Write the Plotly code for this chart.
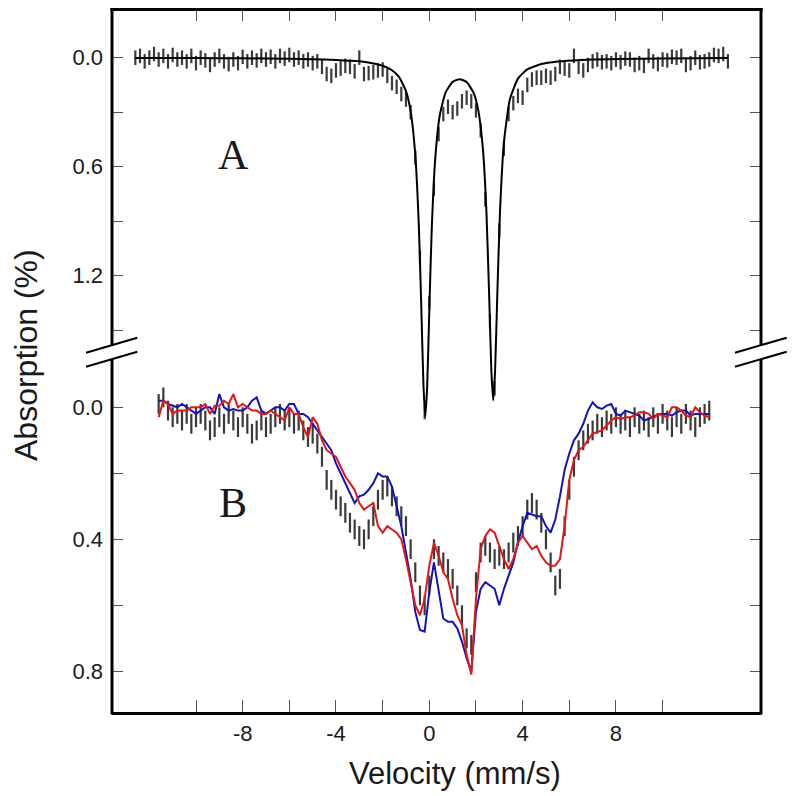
import plotly.graph_objects as go

# ---------------- data ----------------
VEL_A = [-12.6, -12.4, -12.2, -12.0, -11.8, -11.6, -11.4, -11.2, -11.0, -10.8,
         -10.6, -10.4, -10.2, -10.0, -9.8, -9.6, -9.4, -9.2, -9.0, -8.8,
         -8.6, -8.4, -8.2, -8.0, -7.8, -7.6, -7.4, -7.2, -7.0, -6.8,
         -6.6, -6.4, -6.2, -6.0, -5.8, -5.6, -5.4, -5.2, -5.0, -4.8,
         -4.6, -4.4, -4.2, -4.0, -3.8, -3.6, -3.4, -3.2, -3.0, -2.8,
         -2.6, -2.4, -2.2, -2.0, -1.8, -1.6, -1.4, -1.2, -1.0, -0.8,
         -0.6, -0.4, -0.2, 0.0, 0.2, 0.4, 0.6, 0.8, 1.0, 1.2,
         1.4, 1.6, 1.8, 2.0, 2.2, 2.4, 2.6, 2.8, 3.0, 3.2,
         3.4, 3.6, 3.8, 4.0, 4.2, 4.4, 4.6, 4.8, 5.0, 5.2,
         5.4, 5.6, 5.8, 6.0, 6.2, 6.4, 6.6, 6.8, 7.0, 7.2,
         7.4, 7.6, 7.8, 8.0, 8.2, 8.4, 8.6, 8.8, 9.0, 9.2,
         9.4, 9.6, 9.8, 10.0, 10.2, 10.4, 10.6, 10.8, 11.0, 11.2,
         11.4, 11.6, 11.8, 12.0, 12.2, 12.4, 12.6, 12.8]
ABS_A = [0.00, -0.01, 0.02, 0.00, -0.02, 0.01, -0.01, 0.02, -0.015, 0.01,
         0.00, 0.02, -0.01, 0.03, 0.00, 0.015, 0.04, 0.01, -0.01, 0.02,
         0.035, 0.01, 0.03, -0.005, 0.02, 0.00, 0.015, -0.01, 0.01, -0.005,
         0.02, -0.01, 0.005, -0.015, 0.01, 0.00, 0.02, 0.01, 0.03, 0.02,
         0.05, 0.09, 0.10, 0.07, 0.06, 0.045, 0.05, 0.075, 0.00, 0.09,
         0.085, 0.08, 0.07, 0.065, 0.10, 0.14, 0.16, 0.20, 0.23, 0.30,
         0.55, 1.10, 1.95, 1.35, 0.72, 0.42, 0.31, 0.27, 0.30, 0.28,
         0.24, 0.22, 0.24, 0.29, 0.40, 0.78, 1.45, 1.82, 0.95, 0.50,
         0.31, 0.25, 0.21, 0.22, 0.15, 0.12, 0.11, 0.11, 0.10, 0.11,
         0.09, 0.05, 0.06, 0.07, -0.01, 0.05, 0.07, 0.04, 0.02, 0.01,
         0.025, 0.02, 0.03, 0.01, 0.025, 0.005, 0.01, 0.04, 0.03, 0.045,
         -0.01, 0.02, 0.035, 0.01, 0.015, -0.005, 0.00, -0.01, 0.04, 0.03,
         0.00, 0.025, 0.02, 0.01, -0.015, -0.01, -0.02, 0.02]

FIT_V = [-12.6, -10, -8, -6, -5, -4, -3, -2.5, -2, -1.6,
         -1.3, -1.0, -0.8, -0.6, -0.45, -0.35, -0.25, -0.17, -0.09, 0.0,
         0.1, 0.25, 0.45, 0.7, 1.0, 1.3, 1.6, 1.9, 2.1, 2.3,
         2.45, 2.57, 2.66, 2.74, 2.82, 2.91, 3.03, 3.2, 3.45, 3.8,
         4.2, 4.8, 5.5, 6.5, 8, 10, 12.8]
FIT_A = [0.001, 0.002, 0.003, 0.006, 0.008, 0.012, 0.020, 0.029, 0.044, 0.069,
         0.106, 0.184, 0.295, 0.536, 0.920, 1.338, 1.804, 1.975, 1.806, 1.390,
         0.961, 0.563, 0.317, 0.191, 0.133, 0.118, 0.134, 0.194, 0.290, 0.505,
         0.853, 1.327, 1.724, 1.886, 1.723, 1.324, 0.847, 0.464, 0.231, 0.115,
         0.064, 0.035, 0.021, 0.012, 0.007, 0.004, 0.002]

VEL_B = [-11.6, -11.4, -11.2, -11.0, -10.8, -10.6, -10.4, -10.2, -10.0, -9.8,
         -9.6, -9.4, -9.2, -9.0, -8.8, -8.6, -8.4, -8.2, -8.0, -7.8,
         -7.6, -7.4, -7.2, -7.0, -6.8, -6.6, -6.4, -6.2, -6.0, -5.8,
         -5.6, -5.4, -5.2, -5.0, -4.8, -4.6, -4.4, -4.2, -4.0, -3.8,
         -3.6, -3.4, -3.2, -3.0, -2.8, -2.6, -2.4, -2.2, -2.0, -1.8,
         -1.6, -1.4, -1.2, -1.0, -0.8, -0.6, -0.4, -0.2, 0.0, 0.2,
         0.4, 0.6, 0.8, 1.0, 1.2, 1.4, 1.6, 1.8, 2.0, 2.2,
         2.4, 2.6, 2.8, 3.0, 3.2, 3.4, 3.6, 3.8, 4.0, 4.2,
         4.4, 4.6, 4.8, 5.0, 5.2, 5.4, 5.6, 5.8, 6.0, 6.2,
         6.4, 6.6, 6.8, 7.0, 7.2, 7.4, 7.6, 7.8, 8.0, 8.2,
         8.4, 8.6, 8.8, 9.0, 9.2, 9.4, 9.6, 9.8, 10.0, 10.2,
         10.4, 10.6, 10.8, 11.0, 11.2, 11.4, 11.6, 11.8, 12.0]
ABS_B = [-0.01, -0.03, 0.01, 0.03, 0.02, 0.04, 0.02, 0.05, 0.03, 0.02,
         0.04, 0.07, 0.06, 0.03, 0.05, 0.02, 0.04, 0.06, 0.03, 0.05,
         0.08, 0.07, 0.04, 0.06, 0.05, 0.03, 0.02, 0.04, 0.03, 0.05,
         0.04, 0.07, 0.09, 0.08, 0.11, 0.15, 0.22, 0.25, 0.28, 0.30,
         0.32, 0.35, 0.37, 0.39, 0.40, 0.37, 0.33, 0.28, 0.25, 0.24,
         0.27, 0.30, 0.33, 0.36, 0.43, 0.50, 0.57, 0.60, 0.54, 0.43,
         0.45, 0.47, 0.49, 0.52, 0.57, 0.63, 0.70, 0.72, 0.53, 0.44,
         0.42, 0.44, 0.46, 0.45, 0.46, 0.44, 0.41, 0.39, 0.36, 0.31,
         0.29, 0.31, 0.35, 0.40, 0.47, 0.54, 0.52, 0.36, 0.25, 0.18,
         0.13, 0.10, 0.08, 0.07, 0.05, 0.06, 0.04, 0.05, 0.03, 0.05,
         0.04, 0.06, 0.03, 0.05, 0.04, 0.06, 0.03, 0.05, 0.02, 0.04,
         0.06, 0.03, 0.05, 0.02, 0.04, 0.06, 0.03, 0.02, 0.01]
BLUE_B = [-0.02, -0.02, -0.01, -0.005, 0.00, -0.01, 0.00, 0.01, 0.02, 0.01,
          0.00, 0.00, 0.02, -0.04, 0.00, 0.01, 0.005, 0.01, 0.01, 0.00,
          -0.02, -0.03, 0.01, 0.02, 0.01, 0.00, 0.00, 0.01, -0.01, -0.01,
          0.02, 0.02, 0.03, 0.05, 0.07, 0.09, 0.11, 0.13, 0.17, 0.20,
          0.23, 0.26, 0.29, 0.27, 0.265, 0.25, 0.23, 0.20, 0.21, 0.21,
          0.24, 0.30, 0.36, 0.44, 0.52, 0.62, 0.675, 0.68, 0.56, 0.47,
          0.56, 0.64, 0.65, 0.65, 0.67, 0.71, 0.76, 0.80, 0.62, 0.55,
          0.53, 0.54, 0.55, 0.60, 0.55, 0.51, 0.47, 0.41, 0.36, 0.32,
          0.325, 0.33, 0.33, 0.36, 0.38, 0.34, 0.27, 0.19, 0.14, 0.10,
          0.08, 0.05, 0.01, -0.015, 0.00, 0.005, -0.005, -0.01, 0.02, 0.025,
          0.01, 0.015, 0.02, 0.025, 0.04, 0.035, 0.03, 0.02, 0.02, 0.02,
          0.025, 0.015, 0.01, 0.01, 0.025, 0.02, 0.02, 0.02, 0.02]
RED_B = [0.03, -0.02, -0.01, 0.02, 0.01, 0.01, 0.01, 0.00, 0.00, 0.00,
         -0.01, 0.02, -0.005, -0.005, -0.02, -0.01, -0.04, 0.00, -0.01, 0.00,
         0.01, 0.01, 0.02, 0.02, 0.01, 0.02, 0.03, 0.04, 0.00, 0.02,
         0.02, 0.06, 0.09, 0.03, 0.05, 0.10, 0.13, 0.14, 0.15, 0.18,
         0.21, 0.23, 0.25, 0.29, 0.31, 0.30, 0.29, 0.36, 0.38, 0.36,
         0.37, 0.38, 0.40, 0.46, 0.53, 0.60, 0.63, 0.58, 0.48, 0.41,
         0.45, 0.50, 0.52, 0.58, 0.63, 0.66, 0.75, 0.81, 0.58, 0.43,
         0.39, 0.37, 0.38, 0.42, 0.46, 0.49, 0.46, 0.41, 0.39, 0.41,
         0.43, 0.42, 0.45, 0.47, 0.48, 0.48, 0.46, 0.36, 0.22, 0.16,
         0.13, 0.12, 0.10, 0.08, 0.075, 0.07, 0.055, 0.04, 0.03, 0.035,
         0.03, 0.03, 0.025, 0.015, 0.015, 0.02, 0.035, 0.02, 0.025, 0.03,
         0.00, 0.00, 0.01, 0.025, 0.03, 0.00, 0.015, 0.025, 0.03]

X_TICKS = [-10, -8, -6, -4, -2, 0, 2, 4, 6, 8, 10]
X_TICKTEXT = ["", "-8", "", "-4", "", "0", "", "4", "", "8", ""]
YA_TICKS = [0.0, 0.3, 0.6, 0.9, 1.2, 1.5]
YA_TICKTEXT = ["0.0", "", "0.6", "", "1.2", ""]
YB_TICKS = [0.0, 0.2, 0.4, 0.6, 0.8]
YB_TICKTEXT = ["0.0", "", "0.4", "", "0.8"]

# ---------------- layout geometry ----------------
# The page body has an 8px margin, so the figure starts at page (8, 8).
W, H = 787, 788
L, R, T, B = 104, 34, 1, 84
PW, PH = W - L - R, H - T - B            # 649 x 703
PAGE_LEFT = 8 + L                         # 112
PAGE_TOP = 8 + T                          # 9
PAGE_BOTTOM = PAGE_TOP + PH               # 712


def px(x):
    """page x pixel -> paper coordinate"""
    return (x - PAGE_LEFT) / PW


def py(y):
    """page y pixel -> paper coordinate"""
    return (PAGE_BOTTOM - y) / PH


TICKFONT = dict(family="Liberation Sans, Arial, sans-serif", size=22, color="#1a1a1a")
DATA_COL = "#3a3a3a"
CLEAR = "rgba(0,0,0,0)"

fig = go.Figure()

fig.add_trace(go.Scatter(
    x=VEL_A, y=ABS_A, mode="markers", marker=dict(size=2, color=CLEAR),
    error_y=dict(type="constant", value=0.04, color=DATA_COL, thickness=2.2, width=0),
    yaxis="y", showlegend=False, hoverinfo="skip"))
fig.add_trace(go.Scatter(
    x=FIT_V, y=FIT_A, mode="lines",
    line=dict(color="black", width=2, shape="spline", smoothing=0.5),
    yaxis="y", showlegend=False))

fig.add_trace(go.Scatter(
    x=VEL_B, y=ABS_B, mode="markers", marker=dict(size=2, color=CLEAR),
    error_y=dict(type="constant", value=0.03, color=DATA_COL, thickness=2.2, width=0),
    yaxis="y2", showlegend=False, hoverinfo="skip"))
fig.add_trace(go.Scatter(
    x=VEL_B, y=BLUE_B, mode="lines", line=dict(color="#1414b4", width=2),
    yaxis="y2", showlegend=False))
fig.add_trace(go.Scatter(
    x=VEL_B, y=RED_B, mode="lines", line=dict(color="#e01818", width=2),
    yaxis="y2", showlegend=False))

yA_top = -(57.7 - PAGE_TOP) / 181.7
yA_bot = (PAGE_BOTTOM - 57.7) / 181.7
yB_top = -(407.3 - PAGE_TOP) / 330.0
yB_bot = (PAGE_BOTTOM - 407.3) / 330.0
x_left = (PAGE_LEFT - 429.3) / 23.33
x_right = (PAGE_LEFT + PW - 429.3) / 23.33

common_y = dict(showgrid=False, zeroline=False, showline=False, ticks="inside", ticklen=11,
                tickwidth=1.2, tickcolor="#555555", mirror="ticks", tickfont=TICKFONT,
                ticklabelstandoff=8)

fig.update_layout(
    width=W, height=H,
    margin=dict(l=L, r=R, t=T, b=B, pad=0, autoexpand=False),
    paper_bgcolor="white", plot_bgcolor="white",
    xaxis=dict(range=[x_left, x_right], showgrid=False, zeroline=False, showline=True,
               linewidth=3, linecolor="black", mirror="ticks", ticks="inside", ticklen=12,
               tickwidth=1.2, tickcolor="#555555", tickvals=X_TICKS, ticktext=X_TICKTEXT,
               tickfont=TICKFONT, ticklabelstandoff=0),
    yaxis=dict(range=[yA_bot, yA_top], tickvals=YA_TICKS, ticktext=YA_TICKTEXT, **common_y),
    yaxis2=dict(range=[yB_bot, yB_top], tickvals=YB_TICKS, ticktext=YB_TICKTEXT,
                overlaying="y", side="left", **common_y),
)

shapes = []
# top frame line (kept inside the page so it is visible)
shapes.append(dict(type="line", xref="paper", yref="paper", x0=px(110.5), x1=px(762.5),
                   y0=py(9.5), y1=py(9.5), line=dict(color="black", width=3)))
brk_top = 345.2
brk_bot = 359.2
for xe in (0, 1):
    shapes.append(dict(type="line", xref="paper", yref="paper", x0=xe, x1=xe,
                       y0=py(8.0), y1=py(brk_top), line=dict(color="black", width=3)))
    shapes.append(dict(type="line", xref="paper", yref="paper", x0=xe, x1=xe,
                       y0=py(brk_bot), y1=py(714.5), line=dict(color="black", width=3)))
for (xa, xb) in ((86, 137.3), (735, 786.7)):
    for off in (0, 14):
        shapes.append(dict(type="line", xref="paper", yref="paper",
                           x0=px(xa), y0=py(352.7 + off), x1=px(xb), y1=py(337.7 + off),
                           line=dict(color="black", width=2)))
fig.update_layout(shapes=shapes)

TITLE_FONT = dict(family="Liberation Sans, Arial, sans-serif", size=31, color="#1a1a1a")
LETTER_FONT = dict(family="Liberation Serif, Times New Roman, serif", size=42, color="#1a1a1a")
ann = [
    dict(text="Velocity (mm/s)", x=px(455), y=py(773), xref="paper", yref="paper",
         showarrow=False, xanchor="center", yanchor="middle", font=TITLE_FONT),
    dict(text="Absorption (%)", x=px(26), y=py(355), xref="paper", yref="paper",
         showarrow=False, xanchor="center", yanchor="middle", textangle=-90,
         font=dict(family="Liberation Sans, Arial, sans-serif", size=32, color="#1a1a1a")),
    dict(text="A", x=px(233), y=py(155), xref="paper", yref="paper", showarrow=False,
         xanchor="center", yanchor="middle", font=LETTER_FONT),
    dict(text="B", x=px(233), y=py(503), xref="paper", yref="paper", showarrow=False,
         xanchor="center", yanchor="middle", font=LETTER_FONT),
]
fig.update_layout(annotations=ann)

fig.write_html("out.html")
